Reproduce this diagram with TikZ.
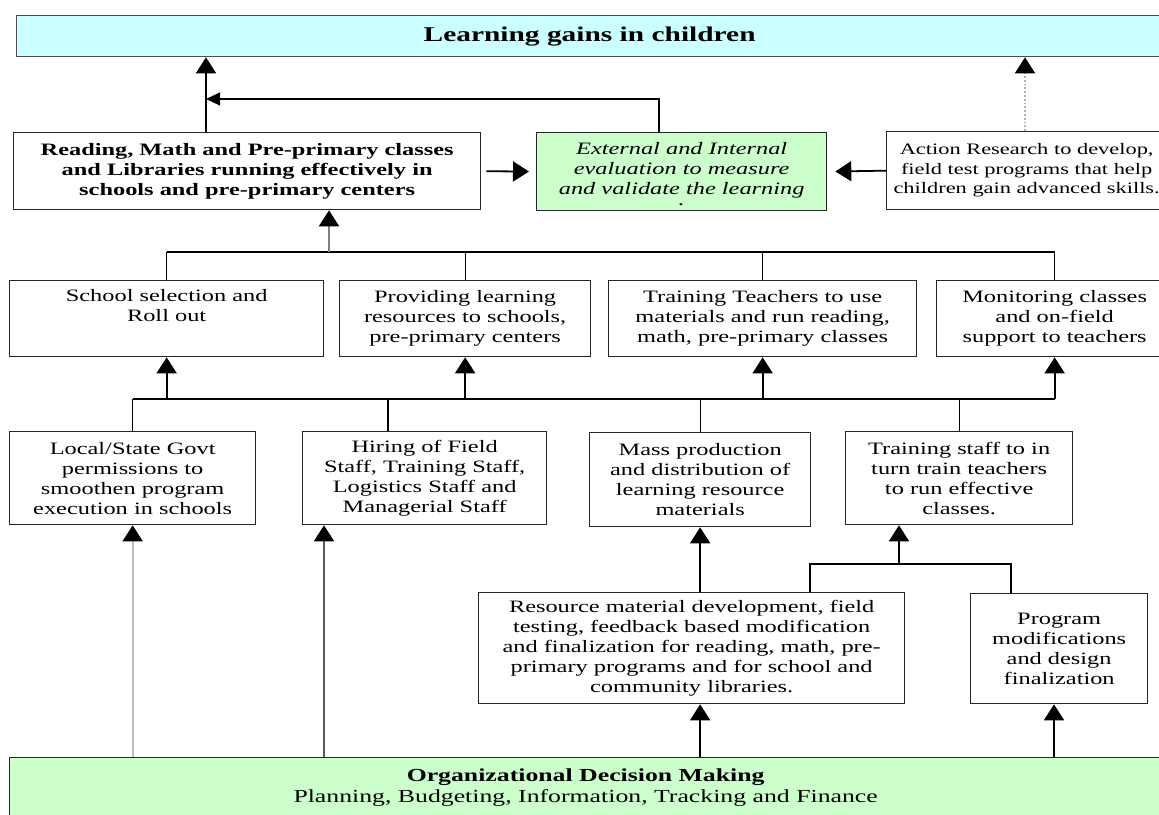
\documentclass[tikz,border=0pt]{standalone}
\usepackage{fontspec}
\setmainfont{Liberation Serif}[FakeStretch=1.4]
\usetikzlibrary{arrows.meta}
\definecolor{cyanbox}{HTML}{CCFFFF}
\definecolor{greenbox}{HTML}{CCFFCC}

\begin{document}
\begin{tikzpicture}[x=1pt, y=-1pt,
    every node/.style={font=\fontsize{17.4}{20}\selectfont, align=center, inner sep=0pt},
    box/.style={draw=black!85, line width=1.3pt, anchor=north west},
    tip/.style={-{Triangle[width=20pt,length=16pt,black]}, line width=1.8pt},
    feed/.style={line width=1.1pt}]
  \useasboundingbox (0,0) rectangle (1159,814);
  \clip (0,0) rectangle (1159,814);

  % outcome row
  \node[box, fill=cyanbox, draw=black!70, minimum width=1146, minimum height=41,
        font=\fontsize{21}{24}\selectfont\bfseries] (gains) at (16,15) {Learning gains in children};
  \node[box, minimum width=467, minimum height=77, font=\fontsize{17.4}{20}\selectfont\bfseries] (classes) at (13,132)
    {Reading, Math and Pre-primary classes\\and Libraries running effectively in\\schools and pre-primary centers};
  \node[box, fill=greenbox, minimum width=290, minimum height=78, font=\fontsize{17.4}{20}\selectfont\itshape] (eval) at (536,132)
    {\rule{0pt}{17pt}External and Internal\\evaluation to measure\\and validate the learning\\[-9pt].};
  \node[box, minimum width=280, minimum height=78, font=\fontsize{16}{19.5}\selectfont] (research) at (886,131)
    {Action Research to develop,\\field test programs that help\\children gain advanced skills.};

  % activities
  \node[box, minimum width=314, minimum height=76] (select) at (9,280) {School selection and\\Roll out\\ \strut};
  \node[box, minimum width=251, minimum height=76] (resources) at (339,280)
    {Providing learning\\resources to schools,\\pre-primary centers};
  \node[box, minimum width=308, minimum height=76] (trainteach) at (608,280)
    {Training Teachers to use\\materials and run reading,\\math, pre-primary classes};
  \node[box, minimum width=236, minimum height=76] (monitor) at (936,280)
    {Monitoring classes\\and on-field\\support to teachers};

  % inputs
  \node[box, minimum width=246, minimum height=93] (govt) at (9,431)
    {Local/State Govt\\permissions to\\smoothen program\\execution in schools};
  \node[box, minimum width=244, minimum height=93] (hiring) at (302,431)
    {Hiring of Field\\Staff, Training Staff,\\Logistics Staff and\\Managerial Staff};
  \node[box, minimum width=221, minimum height=94] (massprod) at (589,432)
    {Mass production\\and distribution of\\learning resource\\materials};
  \node[box, minimum width=227, minimum height=93] (trainstaff) at (845,431)
    {Training staff to in\\turn train teachers\\to run effective\\classes.};
  \node[box, minimum width=426, minimum height=111] (develop) at (478,592)
    {Resource material development, field\\testing, feedback based modification\\and finalization for reading, math, pre-\\primary programs and for school and\\community libraries.};
  \node[box, minimum width=177, minimum height=110] (design) at (970,593)
    {Program\\modifications\\and design\\finalization};

  \node[box, fill=greenbox, minimum width=1152, minimum height=60, font=\fontsize{18.4}{21}\selectfont] (decide) at (9,757)
    {\bfseries Organizational Decision Making\\Planning, Budgeting, Information, Tracking and Finance};

  % top links
  \coordinate (fb) at (206,99);
  \draw[tip] (206,0 |- classes.north) -- (206,0 |- gains.south);
  \draw[-{Triangle[width=13pt,length=14pt]}, line width=1.1pt] (659,0 |- eval.north) |- (fb);
  \draw[tip, shorten <=5pt, shorten >=7pt] (classes.east) -- (eval.west);
  \draw[tip, shorten >=8pt] (research.west) -- (eval.east);
  \draw[tip, gray!60, dotted] (1025,0 |- research.north) -- (1025,0 |- gains.south);

  % activities to classes
  \coordinate (rowtwo) at (329,252);
  \draw[feed] (select.north |- rowtwo) -- (monitor.north |- rowtwo);
  \foreach \n in {select,resources,trainteach,monitor}
    \draw[feed] (\n.north) -- (\n.north |- rowtwo);
  \draw[tip, gray] (rowtwo) -- (rowtwo |- classes.south);

  % inputs to activities
  \coordinate (rowthree) at (388,399);
  \draw[feed] (govt.north |- rowthree) -- (monitor.south |- rowthree);
  \foreach \n in {govt,massprod,trainstaff}
    \draw[feed] (\n.north) -- (\n.north |- rowthree);
  \draw[feed] (rowthree |- hiring.north) -- (rowthree);
  \foreach \n in {select,resources,trainteach,monitor}
    \draw[tip] (\n.south |- rowthree) -- (\n.south);

  % development stage
  \coordinate (rowfour) at (899,564);
  \draw[feed] (810,0 |- develop.north) |- (1011,564) -- (1011,0 |- design.north);
  \draw[tip] (rowfour) -- (rowfour |- trainstaff.south);
  \draw[tip] (massprod.south |- develop.north) -- (massprod.south);

  % decision making
  \draw[tip, gray!50] (govt.south |- decide.north) -- (govt.south);
  \draw[tip, black!65] (324,0 |- decide.north) -- (324,0 |- hiring.south);
  \draw[tip] (massprod.south |- decide.north) -- (massprod.south |- develop.south);
  \draw[tip] (1054,0 |- decide.north) -- (1054,0 |- design.south);
\end{tikzpicture}
\end{document}
